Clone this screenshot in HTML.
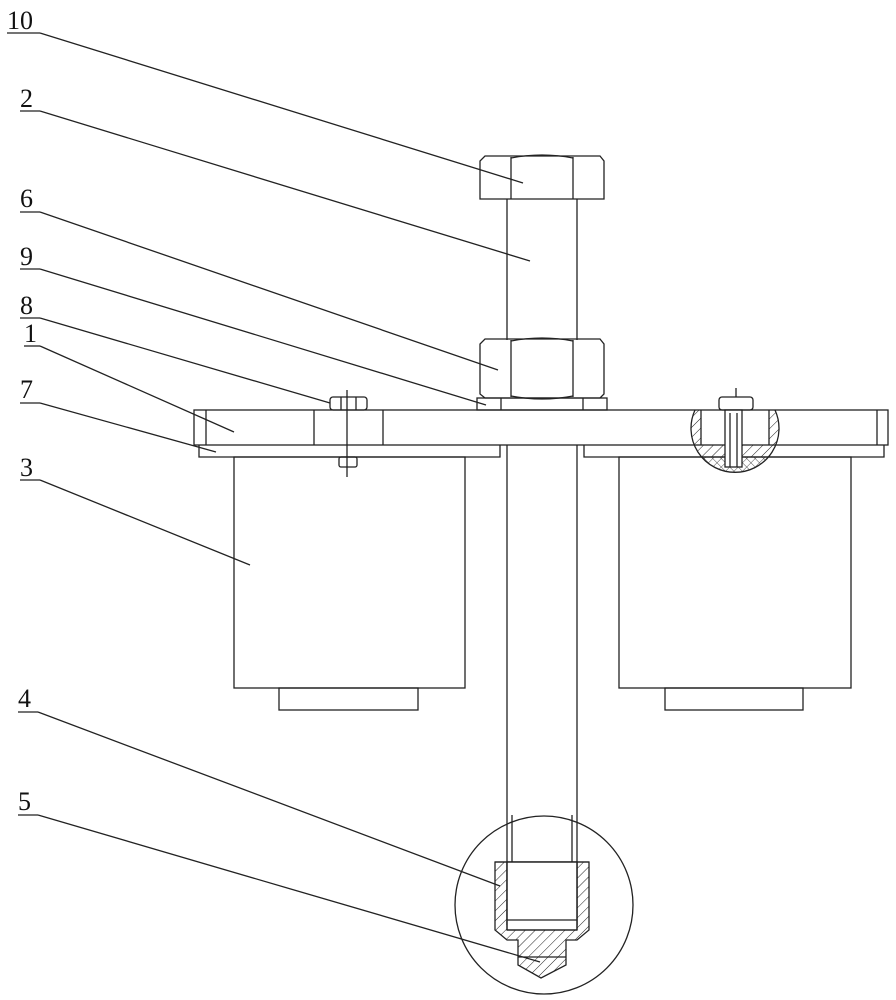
<!DOCTYPE html>
<html><head><meta charset="utf-8"><style>
html,body{margin:0;padding:0;background:#fff;}
svg{display:block}
text{font-family:"Liberation Serif",serif;font-size:26px;fill:#111}
</style></head><body>
<svg width="896" height="1000" viewBox="0 0 896 1000" xmlns="http://www.w3.org/2000/svg">
<defs>
<pattern id="h" width="7" height="7" patternUnits="userSpaceOnUse" patternTransform="rotate(45)">
<line x1="0" y1="0" x2="0" y2="7" stroke="#222" stroke-width="1"/></pattern>
<pattern id="x" width="6" height="6" patternUnits="userSpaceOnUse" patternTransform="rotate(45)">
<line x1="0" y1="0" x2="0" y2="6" stroke="#222" stroke-width="0.8"/><line x1="0" y1="0" x2="6" y2="0" stroke="#222" stroke-width="0.8"/></pattern>
<clipPath id="rc"><path d="M695,410 A44,44 0 1,0 775,410 Z"/></clipPath>
</defs>
<g stroke="#222" stroke-width="1.3" fill="none">
<line x1="7" y1="33" x2="40" y2="33"/><line x1="40" y1="33" x2="523" y2="183"/>
<line x1="20" y1="111" x2="40" y2="111"/><line x1="40" y1="111" x2="530" y2="261"/>
<line x1="20" y1="212" x2="40" y2="212"/><line x1="40" y1="212" x2="498" y2="370"/>
<line x1="20" y1="269" x2="40" y2="269"/><line x1="40" y1="269" x2="486" y2="405"/>
<line x1="20" y1="318" x2="40" y2="318"/><line x1="40" y1="318" x2="330" y2="403"/>
<line x1="24" y1="346" x2="40" y2="346"/><line x1="40" y1="346" x2="234" y2="432"/>
<line x1="20" y1="403" x2="40" y2="403"/><line x1="40" y1="403" x2="216" y2="452"/>
<line x1="20" y1="480" x2="40" y2="480"/><line x1="40" y1="480" x2="250" y2="565"/>
<line x1="18" y1="712" x2="38" y2="712"/><line x1="38" y1="712" x2="500" y2="886"/>
<line x1="18" y1="815" x2="38" y2="815"/><line x1="38" y1="815" x2="540" y2="962"/>
<path d="M485,156 L600,156 L604,161 L604,199 L480,199 L480,161 Z"/>
<line x1="511" y1="157" x2="511" y2="199"/><line x1="573" y1="157" x2="573" y2="199"/>
<path d="M511,158 Q542,152 573,158"/>
<line x1="507" y1="199" x2="507" y2="340"/><line x1="577" y1="199" x2="577" y2="340"/>
<path d="M485,339 L600,339 L604,344 L604,394 L600,398 L485,398 L480,394 L480,344 Z"/>
<line x1="511" y1="340" x2="511" y2="397"/><line x1="573" y1="340" x2="573" y2="397"/>
<path d="M511,341 Q542,335 573,341"/><path d="M511,396 Q542,402 573,396"/>
<rect x="477" y="398" width="130" height="12"/>
<line x1="501" y1="398" x2="501" y2="410"/><line x1="583" y1="398" x2="583" y2="410"/>
<rect x="194" y="410" width="694" height="35"/>
<line x1="206" y1="410" x2="206" y2="445"/><line x1="877" y1="410" x2="877" y2="445"/>
<line x1="314" y1="410" x2="314" y2="445"/><line x1="383" y1="410" x2="383" y2="445"/>
<polyline points="500,445 500,457 199,457 199,445"/>
<polyline points="584,445 584,457 884,457 884,445"/>
<rect x="234" y="457" width="231" height="231"/>
<rect x="279" y="688" width="139" height="22"/>
<rect x="619" y="457" width="232" height="231"/>
<rect x="665" y="688" width="138" height="22"/>
<line x1="507" y1="445" x2="507" y2="925"/><line x1="577" y1="445" x2="577" y2="925"/>
<line x1="512" y1="815" x2="512" y2="925"/><line x1="572" y1="815" x2="572" y2="925"/>
<rect x="330" y="397" width="37" height="13" rx="3"/>
<line x1="341" y1="397" x2="341" y2="410"/><line x1="356" y1="397" x2="356" y2="410"/>
<line x1="347" y1="390" x2="347" y2="477"/>
<rect x="339" y="457" width="18" height="10" rx="2"/>
<!-- right detail -->
<g clip-path="url(#rc)">
<rect x="686" y="410" width="15" height="35" fill="url(#h)" stroke="none"/>
<rect x="769" y="410" width="15" height="35" fill="url(#h)" stroke="none"/>
<rect x="686" y="445" width="100" height="12" fill="url(#h)" stroke="none"/>
<rect x="686" y="457" width="100" height="30" fill="url(#x)" stroke="none"/>
</g>
<rect x="725" y="410" width="17" height="57" fill="#fff"/>
<path d="M695,410 A44,44 0 1,0 775,410"/>
<line x1="701" y1="410" x2="701" y2="445"/><line x1="769" y1="410" x2="769" y2="445"/>
<line x1="730" y1="413" x2="730" y2="467"/><line x1="737" y1="413" x2="737" y2="467"/>
<rect x="719" y="397" width="34" height="13" rx="3"/>
<line x1="736" y1="388" x2="736" y2="397"/>
<circle cx="544" cy="905" r="89"/>
<path d="M495,862 L589,862 L589,930 L577,940 L566,940 L566,965 L541,978 L518,965 L518,940 L507,940 L495,930 Z" fill="url(#h)"/>
<rect x="507" y="862" width="70" height="68" fill="#fff"/>
<line x1="495" y1="862" x2="589" y2="862"/>
<line x1="507" y1="862" x2="507" y2="930"/><line x1="577" y1="862" x2="577" y2="930"/>
<line x1="507" y1="920" x2="577" y2="920"/><line x1="507" y1="930" x2="577" y2="930"/>
<line x1="518" y1="957" x2="566" y2="957"/>
</g>
<text x="7" y="29">10</text>
<text x="20" y="107">2</text>
<text x="20" y="207">6</text>
<text x="20" y="265">9</text>
<text x="20" y="314">8</text>
<text x="24" y="342">1</text>
<text x="20" y="398">7</text>
<text x="20" y="476">3</text>
<text x="18" y="707">4</text>
<text x="18" y="810">5</text>
</svg>
</body></html>
